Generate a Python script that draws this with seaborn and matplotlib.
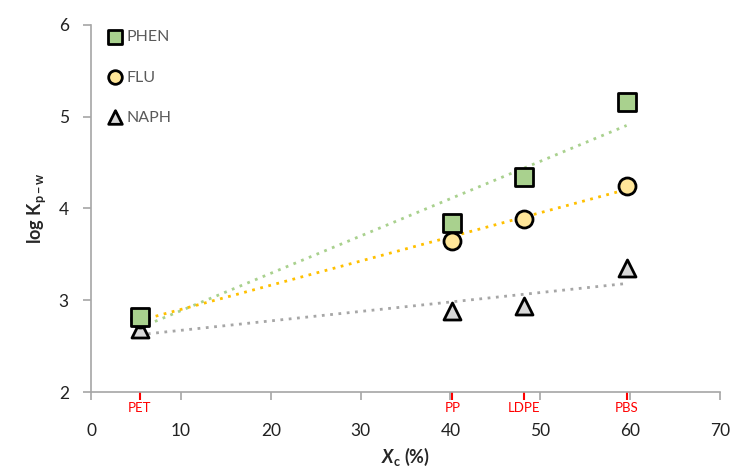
import matplotlib
matplotlib.use("Agg")
import matplotlib.pyplot as plt
import seaborn as sns
import pandas as pd
import numpy as np

polymers = ["PET", "PP", "LDPE", "PBS"]
xc = [5.4, 40.2, 48.2, 59.6]
phen = [2.82, 3.84, 4.34, 5.16]
flu = [2.80, 3.65, 3.89, 4.25]
naph = [2.69, 2.88, 2.94, 3.35]
series_names = ["PHEN", "FLU", "NAPH"]
x_ticks = [0, 10, 20, 30, 40, 50, 60, 70]
y_ticks = [2, 3, 4, 5, 6]

sns.set_theme(style="white")
plt.rcParams["font.family"] = ["Lato", "DejaVu Sans"]
plt.rcParams["mathtext.fontset"] = "custom"
plt.rcParams["mathtext.it"] = "Lato:italic:bold"
plt.rcParams["mathtext.rm"] = "Lato:bold"
plt.rcParams["mathtext.bf"] = "Lato:bold"

df = pd.DataFrame({
    "Xc": xc * 3,
    "logK": phen + flu + naph,
    "compound": sum([[n] * len(xc) for n in series_names], []),
})

fig = plt.figure(figsize=(7.34, 4.68), dpi=100)
ax = fig.add_axes([0.124, 0.162, 0.857, 0.785])

styles = {
    "PHEN": dict(marker="s", face="#A9D18E", line="#A9D18E"),
    "FLU": dict(marker="o", face="#FFE699", line="#FFC000"),
    "NAPH": dict(marker="^", face="#D9D9D9", line="#A6A6A6"),
}

# trendlines
for name in series_names:
    sub = df[df.compound == name]
    sns.regplot(data=sub, x="Xc", y="logK", ax=ax, ci=None, scatter=False,
                line_kws=dict(color=styles[name]["line"], linestyle=(0, (1, 2)), lw=2))

for name in reversed(series_names):
    sub = df[df.compound == name]
    sns.scatterplot(data=sub, x="Xc", y="logK", ax=ax, marker=styles[name]["marker"],
                    s=150, color=styles[name]["face"], edgecolor="black", linewidth=2,
                    label=name, zorder=5)

ax.set_xlim(0, 70)
ax.set_ylim(2, 6)
ax.set_xticks(x_ticks)
ax.set_yticks(y_ticks)
for s in ["top", "right"]:
    ax.spines[s].set_visible(False)
for s in ["left", "bottom"]:
    ax.spines[s].set_color("#A6A6A6")
    ax.spines[s].set_linewidth(1.2)
ax.tick_params(axis="both", which="major", length=6, color="#A6A6A6", width=1.2,
               labelsize=12.5, labelcolor="#222222", direction="out")
ax.tick_params(axis="x", pad=16)
ax.tick_params(axis="x", bottom=True)
ax.tick_params(axis="y", left=True, pad=10)

sec = ax.secondary_xaxis("bottom")
sec.set_xticks(xc)
sec.set_xticklabels(polymers)
sec.tick_params(axis="x", color="red", labelcolor="red", length=6, width=1.5,
                labelsize=9.5, pad=1, direction="out")
sec.spines["bottom"].set_visible(False)

ax.set_xlabel(r"$X_{\mathrm{c}}$ (%)", fontsize=13, fontweight="bold", labelpad=5)
ax.set_ylabel(r"log K$_{\mathrm{p-w}}$", fontsize=13, fontweight="bold", labelpad=8)

handles, labels = ax.get_legend_handles_labels()
order = [labels.index(n) for n in series_names]
leg = ax.legend([handles[i] for i in order], [labels[i] for i in order],
                loc="upper left", bbox_to_anchor=(0.025, 0.985), frameon=False,
                borderpad=0, borderaxespad=0,
                fontsize=11.5, labelcolor="#595959", handletextpad=0.25,
                handlelength=1.0, labelspacing=1.62, markerscale=0.8)
for h in leg.legend_handles:
    h.set_linewidth(2)
    h.set_edgecolor("black")

fig.savefig("out.png", dpi=100)
